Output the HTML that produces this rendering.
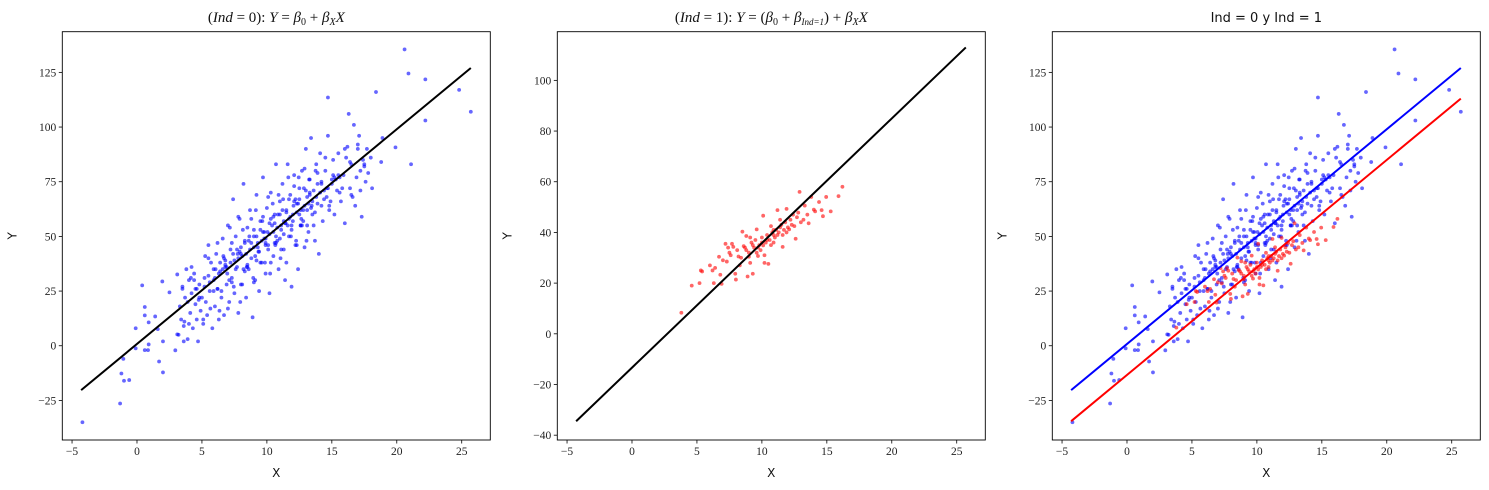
<!DOCTYPE html>
<html><head><meta charset="utf-8">
<style>
body{margin:0;background:#fff;}
svg{display:block;}
.tk{font-family:"Liberation Serif",serif;font-size:11.5px;fill:#222;}
.lab{font-family:"DejaVu Sans","Liberation Sans",sans-serif;font-size:12px;fill:#111;}
.ttl{font-family:"Liberation Serif",serif;font-size:15px;fill:#111;}
</style></head>
<body>
<svg id="chart" width="1489" height="490"></svg>
<script>
const blueX=[20.6,20.9,22.2,24.8,25.7,22.2,21.1,19.9,18.4,14.7,-4.2,-1.3,-1,-0.6,-1.2,-1.05,-0.1,-0.1,0.4,0.6,0.6,0.6,0.85,0.9,0.9,1.4,1.6,1.7,2,2,1.95,2.5,2.95,3.1,3.1,
3.2,3.3,3.4,3.5,3.6,3.7,3.8,3.9,4,4.1,4.2,4.3,4.4,4.5,4.6,4.7,4.8,4.9,5,5.1,3.6,4.2,4.5,5.2,5.3,5.4,5.5,5.6,5.7,5.8,5.9,6,6.1,6.2,6.3,6.4,6.5,6.6,6.7,6.8,6.9,7,7.1,7.2,7.3,7.4,7.5,7.6,7.7,7.8,7.9,8,8.1,8.2,8.3,8.4,8.5,8.6,8.7,8.8,8.9,9,9.1,9.2,9.3,9.4,9.5,9.6,9.7,9.8,9.9,10,10.1,10.2,10.3,10.4,10.5,10.6,10.7,10.8,10.9,11,11.1,11.2,11.3,11.4,11.5,11.6,11.7,11.8,11.9,12,12.1,12.2,12.3,12.4,12.5,12.6,12.7,12.8,12.9,13,13.1,13.2,13.3,13.4,13.5,13.6,13.7,13.8,13.9,14,14.1,14.2,14.3,14.5,14.6,14.7,14.8,15,15.1,15.2,15.4,15.5,15.7,15.9,16,16.2,16.3,16.4,16.5,16.7,16.8,16.9,17,17.1,17.2,17.3,17.4,17.6,17.7,17.8,18,18.1,18.8,18.9,17.5,16.6,
5.2,5.6,6,6.3,6.6,6.9,7.2,7.5,7.8,8.1,8.4,8.7,9,9.3,9.6,9.9,10.2,10.5,10.8,11.1,11.4,11.7,12,12.3,12.6,12.9,13.2,13.5,13.8,14.1,14.4,14.7,15,15.3,15.6,
4.8,5.5,6.2,6.8,7.3,7.7,8.2,8.6,9.1,9.5,9.9,10.3,10.7,11.2,11.6,12.1,12.5,13,13.4,13.9,14.4,15.1,15.8,16.4,
6.4,7.1,7.9,8.3,8.8,9.2,9.7,10.1,10.6,11,11.5,11.9,12.4,12.8,13.3,13.7,14.2,14.9,
8,8.5,9,9.4,9.8,10.2,10.6,11,11.3,11.8,12.2,12.6,7.4,6.7,5.9,4.4,3.9,13.1,14.6,15.5,16.1,17.2,
3.5,4.0,4.6,5.1,5.5,5.9,6.2,6.5,6.8,7.0,7.3,7.6,7.8,8.0,8.3,8.5,8.8,9.0,9.2,9.5,9.7,9.9,10.1,10.3,10.5,10.7,10.9,11.1,11.3,11.5,11.7,11.9,12.1,12.3,12.5,12.7,12.9,13.1,13.3,13.6,13.9,14.2,14.5,14.8,15.2,15.6,16.0,16.5,17.0,17.5,
3.65,4.15,4.75,5.25,5.65,6.05,6.35,6.65,6.95,7.15,7.45,7.75,7.95,8.15,8.45,8.65,8.95,9.15,9.35,9.65,9.85,10.05,10.25,10.45,10.65,10.85,11.05,11.25,11.45,11.65,11.85,12.05,12.25,12.45,12.65,12.85,13.05,13.25,13.45,13.75],
blueY=[135.5,124.5,121.8,117,107,103,83,90.7,116,113.5,-35,-26.4,-16,-15.7,-12.7,-6,-1.2,8,27.6,17.7,13.9,-2,-2,0.6,10.7,13.4,7.6,-7.2,-12.2,2,29.4,24.4,-2.1,5.2,32.6,
5,18,12,27,9,22,35,3,30,15,24,8,33,19,12,2,28,16,22,10,2,36,26,31,20,14,46,25,38,8,30,18,42,26,12,34,22,49,14,37,28,55,20,44,31,67,24,50,36,15,58,42,28,74,47,22,54,35,62,40,13,50,30,69,45,25,57,38,77,52,33,63,46,24,70,55,41,60,83,48,35,66,53,74,44,30,62,83,50,69,27,57,78,46,65,35,72,55,80,62,45,90,68,52,76,95,60,71,48,83,65,42,88,74,57,80,68,96,62,76,85,60,71,88,66,78,56,91,106,72,83,101,64,77,92,96,71,59,85,75,90,79,86,72,84,95,82,68,
27,29,31,33,35,36,38,39,40,41,42,44,45,47,48,49,51,52,54,55,56,58,60,61,62,64,65,66,68,70,71,72,74,76,77,
22,32,26,39,29,44,35,48,41,53,46,58,50,62,55,66,60,71,63,74,67,78,72,84,
38,30,43,34,47,39,52,44,56,49,61,53,65,57,70,61,75,66,
45,37,53,43,49,56,47,60,51,59,67,55,42,40,35,30,20,62,72,78,86,80,
26,10,26,12,40,25,47,25,36,17,47,35,59,28,48,36,58,29,50,38,59,47,68,38,59,47,69,44,57,38,67,55,73,46,67,55,81,55,69,55,79,64,86,64,77,70,90,69,90,83,
11,31,21,41,17,35,16,41,33,54,27,42,20,53,36,50,31,62,43,57,38,52,33,65,46,60,40,67,56,77,50,64,48,77,58,72,48,76,64,80];
const redX=[3.8,4.6,5.2,5.3,5.4,6,6.3,6.4,6.7,6.8,6.9,7.2,7.3,7.5,7.7,7.8,7.95,8,8.2,8.5,8.6,8.8,8.9,9,9.1,9.3,9.6,9.7,10.1,10.1,10.2,10.5,10.7,10.9,11.2,11.4,11.6,11.9,12.1,12.5,12.6,12.9,12.8,13.3,13.6,13.8,14.1,14.6,14.7,14.95,15.3,15.9,16.2,
7,7.6,8.1,8.4,8.7,9,9.2,9.4,9.5,9.8,10,10.3,10.4,10.6,10.8,11,11.1,11.3,11.5,11.7,11.8,12,12.2,12.3,12.7,13,13.5,14,8.3,9.9,10.9,11.6,6.2,7.4,9.1,10.2,11.9,12.4,13.2,14.4,
8.8,9.3,9.7,10.0,10.4,10.7,11.2,11.4,9.6,10.9],
redY=[8.3,19,20,25,24.6,27,20,26,30.4,23.3,19.7,35.5,28.5,32,35.5,34.3,23.7,21.4,30.5,40.3,34.6,38.6,22.6,30.4,38,23.7,41.2,30.7,46.6,34.9,28,27.6,42.5,39,48.8,45,34.3,49.3,41.2,42.5,37.5,56,47.8,50.6,43.6,54,48.3,48.8,46.4,54,48.3,54.3,58,
29,31,33,30,34,32,36,34,37,35,38,36,39,37,40,38,41,40,43,41,44,42,45,43,46,44,47,49,27,33,36,39,25,34,28,31,40,47,45,52,
33,35,34,36,37,35,39,42,32,41];
const xTicks=[-5,0,5,10,15,20,25];
const yTicksA=[-25,0,25,50,75,100,125];
const yTicksB=[-40,-20,0,20,40,60,80,100];
const lineA=[[-4.3,-20.3],[25.7,127]];
const lineB=[[-4.3,-34.5],[25.7,113]];

const NS="http://www.w3.org/2000/svg";
const svg=document.getElementById('chart');
function el(tag,attrs,parent){const e=document.createElementNS(NS,tag);for(const k in attrs)e.setAttribute(k,attrs[k]);(parent||svg).appendChild(e);return e;}

function panel(left,ydom,yticks,name,titleHtml,series,lines){
  const top=31.7,W=428,H=408.3;
  const xdom=[-5.75,27.2];
  const sx=v=>left+(v-xdom[0])/(xdom[1]-xdom[0])*W;
  const sy=v=>top+H-(v-ydom[0])/(ydom[1]-ydom[0])*H;
  const g=el('g',{});
  
  
  series.forEach(s=>{
    const sg=el('g',{},g);
    
    
    for(let i=0;i<s.x.length;i++){
      const c=el('circle',{cx:sx(s.x[i]),cy:sy(s.y[i]),r:1.9,fill:s.color,'fill-opacity':0.6},sg);
      
      
    }
  });
  lines.forEach(l=>{
    const p=el('line',{x1:sx(l.d[0][0]),y1:sy(l.d[0][1]),x2:sx(l.d[1][0]),y2:sy(l.d[1][1]),stroke:l.color,'stroke-width':2},g);
    
    
  });
  const fr=el('rect',{x:left,y:top,width:W,height:H,fill:'none',stroke:'#000','stroke-width':0.9},g);
  
  
  xTicks.forEach(t=>{
    const x=sx(t);
    el('line',{x1:x,y1:top+H,x2:x,y2:top+H+3.5,stroke:'#000','stroke-width':0.8},g);
    const tx=el('text',{x:x,y:top+H+15,'text-anchor':'middle',class:'tk'},g);
    tx.textContent=(t<0?'\u2212'+(-t):t);
    
    
  });
  yticks.forEach(t=>{
    const y=sy(t);
    el('line',{x1:left,y1:y,x2:left-3.5,y2:y,stroke:'#000','stroke-width':0.8},g);
    const tx=el('text',{x:left-6,y:y+4,'text-anchor':'end',class:'tk'},g);
    tx.textContent=(t<0?'\u2212'+(-t):t);
    
    
  });
  const xl=el('text',{x:left+W/2,y:477,'text-anchor':'middle',class:'lab'},g);
  xl.textContent='X';
  
  
  const yl=el('text',{x:0,y:0,'text-anchor':'middle',class:'lab',transform:`translate(${left-46},${top+H/2}) rotate(-90)`},g);
  yl.textContent='Y';
  
  
  const tt=el('text',{x:left+W/2,y:22,'text-anchor':'middle',class:'ttl'},g);
  tt.innerHTML=titleHtml;
  
  
}
panel(62.3,[-43.1,143.6],yTicksA,'panel-ind0',
 '(<tspan font-style="italic">Ind</tspan> = 0): <tspan font-style="italic">Y</tspan> = <tspan font-style="italic">β</tspan><tspan font-size="10" dy="3">0</tspan><tspan dy="-3"> + </tspan><tspan font-style="italic">β</tspan><tspan font-size="10" font-style="italic" dy="3">X</tspan><tspan font-style="italic" dy="-3">X</tspan>',
 [{name:'blue-points',x:blueX,y:blueY,color:'#0000ff'}],[{name:'fit-line-ind0',d:lineA,color:'#000'}]);
panel(557.3,[-41.9,119.2],yTicksB,'panel-ind1',
 '(<tspan font-style="italic">Ind</tspan> = 1): <tspan font-style="italic">Y</tspan> = (<tspan font-style="italic">β</tspan><tspan font-size="10" dy="3">0</tspan><tspan dy="-3"> + </tspan><tspan font-style="italic">β</tspan><tspan font-size="9" font-style="italic" dy="3">Ind=1</tspan><tspan dy="-3">) + </tspan><tspan font-style="italic">β</tspan><tspan font-size="10" font-style="italic" dy="3">X</tspan><tspan font-style="italic" dy="-3">X</tspan>',
 [{name:'red-points',x:redX,y:redY,color:'#ff0000'}],[{name:'fit-line-ind1',d:lineB,color:'#000'}]);
panel(1052.3,[-43.1,143.6],yTicksA,'panel-combined',
 '<tspan font-family="DejaVu Sans, sans-serif" font-size="13">Ind = 0 y Ind = 1</tspan>',
 [{name:'blue-points',x:blueX,y:blueY,color:'#0000ff'},{name:'red-points',x:redX,y:redY,color:'#ff0000'}],
 [{name:'fit-line-ind0',d:lineA,color:'#0000ff'},{name:'fit-line-ind1',d:lineB,color:'#ff0000'}]);
</script>
</body></html>
